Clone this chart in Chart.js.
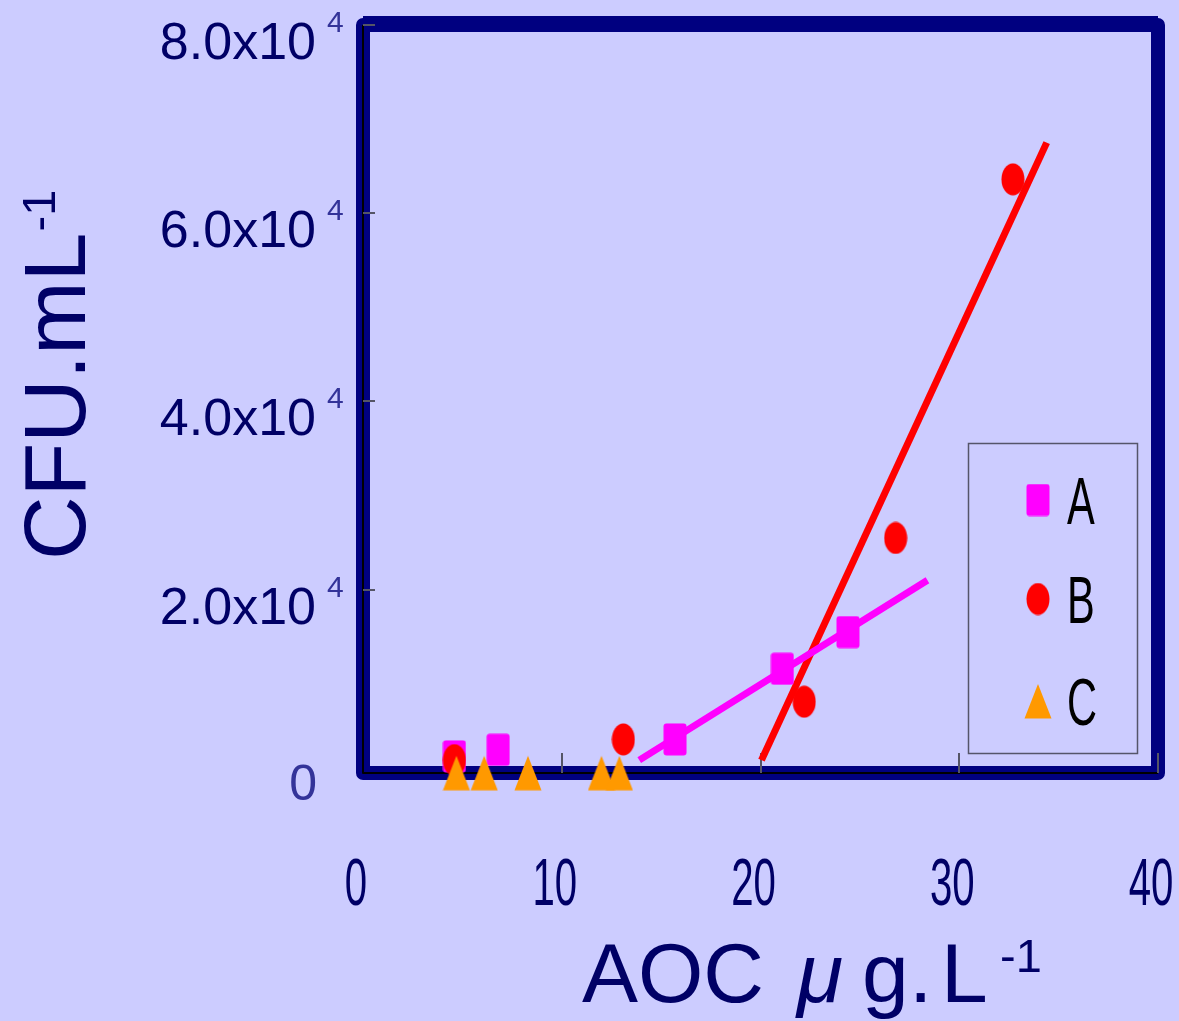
<!DOCTYPE html>
<html><head><meta charset="utf-8">
<script src="https://cdn.jsdelivr.net/npm/chart.js@4.4.1/dist/chart.umd.min.js"></script>
<style>
html,body{margin:0;padding:0;background:#ccccff;overflow:hidden}
#wrap{width:1179px;height:1021px;position:relative}
</style></head>
<body><div id="wrap"><canvas id="c" width="1179" height="1021"></canvas></div>
<script>
// ---- data ----
const seriesNames = ['A', 'B', 'C'];
const aocA = [4.6, 6.8, 15.7, 21.1, 24.4];
const cfuA = [2300, 3000, 4100, 11600, 15500];
const aocB = [4.6, 13.1, 22.2, 26.8, 32.7];
const cfuB = [1900, 4100, 8100, 25500, 63600];
const aocC = [4.7, 6.1, 8.3, 12.0, 12.9];
const cfuC = [550, 550, 550, 550, 550];
const fitAx = [13.9, 28.4];
const fitAy = [1900, 21000];
const fitBx = [20.05, 34.4];
const fitBy = [1900, 67500];
const xTicks = [0, 10, 20, 30, 40];
const xTickLabels = ['0', '10', '20', '30', '40'];
const yTicks = [0, 20000, 40000, 60000, 80000];
const yTickMantissa = ['0', '2.0x10', '4.0x10', '6.0x10', '8.0x10'];
const yTickExp = ['', '4', '4', '4', '4'];
const yAxisMin = 530;
const yAxisMax = 80000;
const xTitle = ['AOC', 'μ', 'g', '.', 'L', '-1'];
const yTitle = ['CFU.mL', '-1'];

// ---- styles ----
const colA = '#ff00ff', colB = '#ff0000', colC = '#ff9900';
const NAVY = '#000066', FRAME = '#000080', LIGHT = '#333399';
const FONT = '"Liberation Sans", Arial, sans-serif';

function mk(w, h, draw) {
  const c = document.createElement('canvas');
  c.width = w; c.height = h;
  const g = c.getContext('2d');
  draw(g, w, h);
  return c;
}
const imgSquare = mk(24, 33, (g, w, h) => {
  g.fillStyle = colA; g.beginPath();
  if (g.roundRect) g.roundRect(0.5, 0.5, w - 1, h - 1, 3); else g.rect(0.5, 0.5, w - 1, h - 1);
  g.fill();
});
const imgCircle = mk(24, 33, (g, w, h) => {
  g.fillStyle = colB; g.beginPath();
  g.ellipse(w / 2, h / 2, w / 2 - 0.5, h / 2 - 0.5, 0, 0, Math.PI * 2); g.fill();
});
const imgTri = mk(28, 36, (g, w, h) => {
  g.fillStyle = colC; g.beginPath();
  g.moveTo(w / 2, 1); g.lineTo(w - 0.5, h - 0.5); g.lineTo(0.5, h - 0.5); g.closePath(); g.fill();
});
const markerImgs = [imgSquare, imgCircle, imgTri];

const pts = (xs, ys) => xs.map((x, i) => ({x: x, y: ys[i]}));

const framePlugin = {
  id: 'frame',
  beforeDatasetsDraw(chart) {
    const {ctx, chartArea: a, scales: {x, y}} = chart;
    ctx.save();
    ctx.strokeStyle = FRAME; ctx.lineWidth = 14; ctx.lineJoin = 'round';
    ctx.strokeRect(a.left, a.top, a.right - a.left, a.bottom - a.top);
    ctx.fillStyle = FRAME;
    ctx.fillRect(a.left, a.top - 9, a.right - a.left, 3);
    // thin axis lines
    ctx.strokeStyle = '#000000'; ctx.lineWidth = 2;
    ctx.beginPath();
    ctx.moveTo(a.left, a.top); ctx.lineTo(a.left, a.bottom); ctx.lineTo(a.right, a.bottom);
    ctx.stroke();
    // ticks
    ctx.strokeStyle = '#555566'; ctx.lineWidth = 2;
    ctx.beginPath();
    yTicks.forEach(v => { if (v === 0) return; const py = Math.round(y.getPixelForValue(v)); ctx.moveTo(a.left, py); ctx.lineTo(a.left + 12, py); });
    xTicks.forEach(v => { if (v === 0) return; const px = Math.round(x.getPixelForValue(v)); ctx.moveTo(px, a.bottom); ctx.lineTo(px, a.bottom - 20); });
    ctx.stroke();
    ctx.restore();
  },
  afterDraw(chart) {
    const {ctx, chartArea: a, scales: {x, y}} = chart;
    ctx.save();
    // y tick labels
    yTicks.forEach((v, i) => {
      const py = y.getPixelForValue(v);
      if (v === 0) {
        ctx.font = '50px ' + FONT; ctx.fillStyle = LIGHT; ctx.textAlign = 'right'; ctx.textBaseline = 'alphabetic';
        ctx.fillText(yTickMantissa[i], 317, py + 22);
      } else {
        ctx.font = '52px ' + FONT; ctx.fillStyle = NAVY; ctx.textAlign = 'right'; ctx.textBaseline = 'alphabetic';
        ctx.fillText(yTickMantissa[i], 316, py + 34);
        ctx.font = '30px ' + FONT; ctx.fillStyle = LIGHT; ctx.textAlign = 'left';
        ctx.fillText(yTickExp[i], 327, py + 7);
      }
    });
    // x tick labels (condensed)
    ctx.font = '67px ' + FONT; ctx.fillStyle = NAVY; ctx.textAlign = 'center'; ctx.textBaseline = 'alphabetic';
    xTicks.forEach((v, i) => {
      const px = x.getPixelForValue(v) - 7;
      ctx.save(); ctx.translate(px, 905); ctx.scale(0.6, 1);
      ctx.fillText(xTickLabels[i], 0, 0); ctx.restore();
    });
    // x title
    ctx.fillStyle = NAVY; ctx.textAlign = 'left';
    ctx.font = '84px ' + FONT; ctx.fillText(xTitle[0], 582, 1002);
    ctx.font = 'italic 84px ' + FONT; ctx.fillText(xTitle[1], 797, 1002);
    ctx.font = '84px ' + FONT;
    ctx.fillText(xTitle[2], 862, 1002);
    ctx.fillText(xTitle[3], 909, 1002);
    ctx.fillText(xTitle[4], 941, 1002);
    ctx.font = '47px ' + FONT; ctx.fillText(xTitle[5], 1000, 972);
    // y title
    ctx.save(); ctx.translate(85, 560); ctx.rotate(-Math.PI / 2);
    ctx.font = '88px ' + FONT; ctx.fillStyle = NAVY; ctx.textAlign = 'left';
    ctx.fillText(yTitle[0], 0, 0);
    const w = ctx.measureText(yTitle[0]).width;
    ctx.font = '47px ' + FONT; ctx.fillText(yTitle[1], w + 1, -30);
    ctx.restore();
    // legend
    ctx.strokeStyle = '#55556a'; ctx.lineWidth = 1.5;
    ctx.strokeRect(968.5, 443.5, 169, 310);
    const rowsY = [500, 599, 701];
    seriesNames.forEach((n, i) => {
      const im = markerImgs[i];
      ctx.drawImage(im, 1038 - im.width / 2, rowsY[i] - im.height / 2);
      ctx.save(); ctx.translate(1067, rowsY[i] + 24); ctx.scale(0.63, 1);
      ctx.font = '66px ' + FONT; ctx.fillStyle = '#000000'; ctx.textAlign = 'left';
      ctx.fillText(n, 0, 0); ctx.restore();
    });
    ctx.restore();
  }
};

new Chart(document.getElementById('c'), {
  type: 'scatter',
  data: {
    datasets: [
      {label: 'fit B', data: pts(fitBx, fitBy), showLine: true, borderColor: colB, borderWidth: 7, borderCapStyle: 'butt', pointRadius: 0, order: 4, clip: false},
      {label: 'fit A', data: pts(fitAx, fitAy), showLine: true, borderColor: colA, borderWidth: 7, borderCapStyle: 'butt', pointRadius: 0, order: 3, clip: false},
      {label: seriesNames[0], data: pts(aocA, cfuA), pointStyle: imgSquare, pointRadius: 12, order: 2, clip: false},
      {label: seriesNames[1], data: pts(aocB, cfuB), pointStyle: imgCircle, pointRadius: 12, order: 1, clip: false},
      {label: seriesNames[2], data: pts(aocC, cfuC), pointStyle: imgTri, pointRadius: 12, order: 0, clip: false}
    ]
  },
  options: {
    responsive: false, animation: false, devicePixelRatio: 1,
    layout: {padding: {left: 363, right: 21, top: 25, bottom: 248}},
    plugins: {legend: {display: false}, tooltip: {enabled: false}},
    scales: {
      x: {type: 'linear', min: 0, max: 40, display: false},
      y: {type: 'linear', min: yAxisMin, max: yAxisMax, display: false}
    }
  },
  plugins: [framePlugin]
});
</script>
</body></html>
